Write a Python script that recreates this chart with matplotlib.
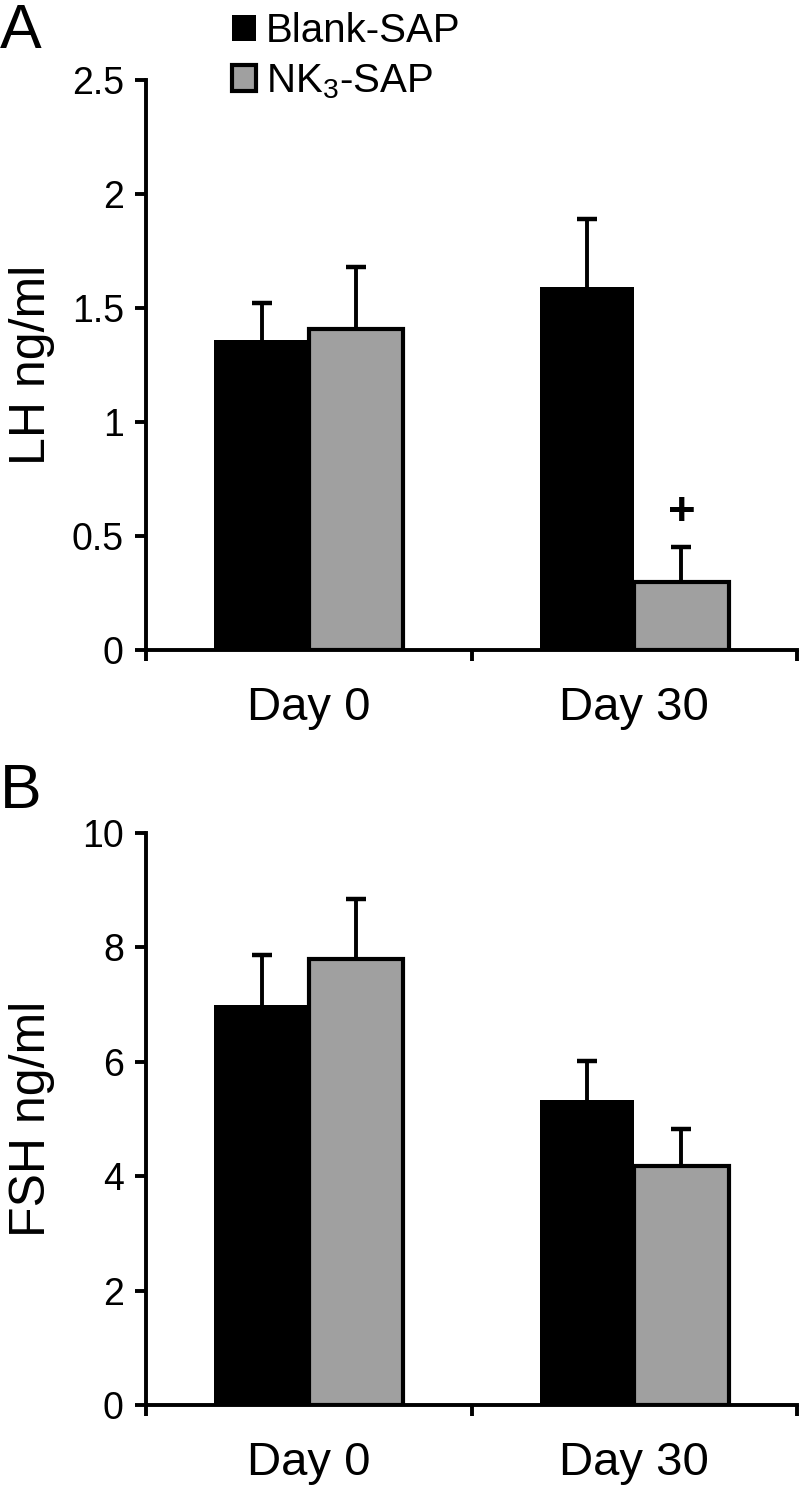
import numpy as np
import matplotlib
matplotlib.use("Agg")
from matplotlib import pyplot as plt

plt.rcParams['font.family'] = ['Liberation Sans', 'DejaVu Sans']
plt.rcParams['mathtext.fontset'] = 'custom'
plt.rcParams['mathtext.rm'] = 'Liberation Sans'

days = ['Day 0', 'Day 30']
groups = ['Blank-SAP', r'NK$\mathregular{_3}$-SAP']
colors = ['#000000', '#a0a0a0']

lh_mean = [[1.36, 1.59], [1.41, 0.30]]
lh_err = [[0.16, 0.30], [0.27, 0.15]]
fsh_mean = [[7.0, 5.33], [7.79, 4.18]]
fsh_err = [[0.86, 0.69], [1.06, 0.64]]

W, H = 800, 1486
fig = plt.figure(figsize=(W / 100, H / 100), dpi=100)
axA = fig.add_axes([146 / W, 1 - 650 / H, 651 / W, 570 / H])
axB = fig.add_axes([146 / W, 1 - 1405 / H, 651 / W, 572 / H])

bw = 0.29
x = np.arange(len(days))


def panel(ax, means, errs, ylim, yticks, ylabel):
    for k in range(2):
        pos = x + (k - 0.5) * bw
        ax.bar(pos, means[k], bw, color=colors[k], edgecolor='black',
               linewidth=3 if k == 1 else 0, zorder=2, label=groups[k])
        eb = ax.errorbar(pos, means[k], yerr=[np.zeros(2), errs[k]], fmt='none',
                         ecolor='black', elinewidth=2.8, capsize=7.5, capthick=3.2, zorder=1)
        # only the upper cap is wanted
        for cap in eb[1]:
            if np.allclose(cap.get_ydata(), means[k]):
                cap.set_visible(False)
    ax.set_xlim(-0.5, 1.5)
    ax.set_ylim(*ylim)
    ax.set_yticks(yticks)
    ax.set_yticklabels(['%g' % v for v in yticks])
    ax.set_xticks([-0.5, 0.5, 1.5])
    ax.set_xticklabels([])
    ax.set_xticks(x, minor=True)
    ax.set_xticklabels(days, minor=True, fontsize=34)
    ax.tick_params(axis='x', which='minor', length=0, pad=26)
    ax.tick_params(axis='x', which='major', length=8, width=2.8, direction='out')
    ax.tick_params(axis='y', length=8, width=2.8, direction='out', labelsize=27, pad=8)
    for s in ['top', 'right']:
        ax.spines[s].set_visible(False)
    for s in ['left', 'bottom']:
        ax.spines[s].set_linewidth(2.8)
    ax.set_ylabel(ylabel, fontsize=36)
    ax.yaxis.set_label_coords(-0.14, 0.5)


panel(axA, lh_mean, lh_err, (0, 2.5), [0, 0.5, 1, 1.5, 2, 2.5], 'LH ng/ml')
panel(axB, fsh_mean, fsh_err, (0, 10), [0, 2, 4, 6, 8, 10], 'FSH ng/ml')

axA.text(1 + 0.5 * bw, 0.60, '+', ha='center', va='center', fontsize=34, fontweight='bold')

axA.legend(loc='upper left', bbox_to_anchor=(232 / W, 1 - 12 / H),
           bbox_transform=fig.transFigure, frameon=False, fontsize=29,
           handlelength=0.6, handleheight=0.6, handletextpad=0.25,
           labelspacing=0.3, borderpad=0, borderaxespad=0)

fig.text(0, 1 - 2 / H, 'A', fontsize=45, va='top', ha='left')
fig.text(0, 1 - 762 / H, 'B', fontsize=45, va='top', ha='left')

fig.savefig('out.png', dpi=100)
